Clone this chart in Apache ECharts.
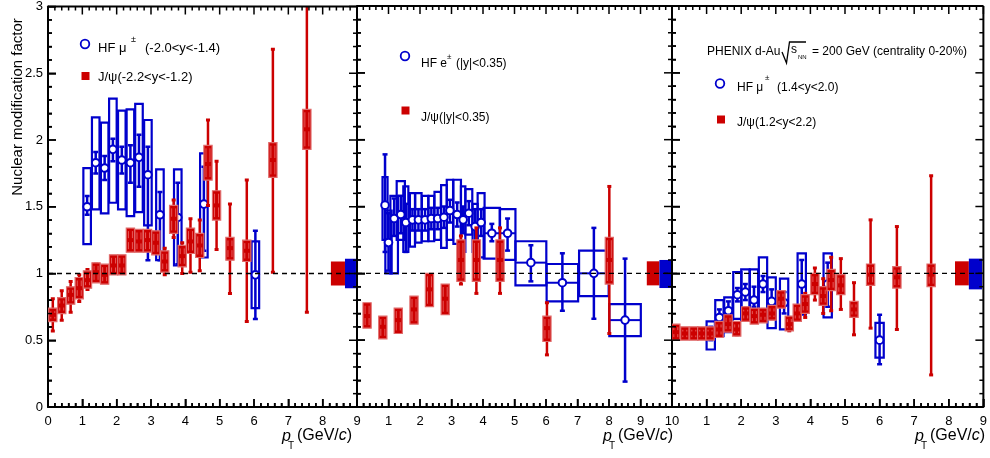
<!DOCTYPE html>
<html>
<head>
<meta charset="utf-8">
<title>Nuclear modification factor</title>
<script src="https://cdn.jsdelivr.net/npm/echarts@6/dist/echarts.min.js"></script>
<style>
html, body { margin: 0; padding: 0; background: #fff; }
#chart { width: 990px; height: 458px; }
</style>
</head>
<body>
<div id="chart"></div>
<script>
// columns: pT, R, statLo, statHi, sysLo, sysHi, binHalfWidth

// panel 1: backward rapidity
const hfMuBwd = [
    [1.14, 1.50, 1.44, 1.58, 1.22, 1.79, 0.11],
    [1.39, 1.83, 1.75, 1.91, 1.48, 2.17, 0.11],
    [1.65, 1.79, 1.70, 1.88, 1.45, 2.13, 0.11],
    [1.89, 1.93, 1.84, 2.01, 1.53, 2.31, 0.11],
    [2.15, 1.85, 1.75, 1.95, 1.48, 2.22, 0.11],
    [2.40, 1.83, 1.68, 1.96, 1.43, 2.23, 0.11],
    [2.65, 1.87, 1.65, 2.04, 1.46, 2.27, 0.11],
    [2.91, 1.74, 1.10, 1.95, 1.36, 2.15, 0.11],
    [3.26, 1.44, 1.10, 1.61, 1.10, 1.78, 0.11],
    [3.78, 1.42, 1.07, 1.68, 1.06, 1.78, 0.11],
    [4.54, 1.52, 1.17, 1.80, 1.12, 1.90, 0.11],
    [6.04, 0.99, 0.66, 1.32, 0.74, 1.24, 0.11]
];
const jpsiBwd = [
    [0.14, 0.69, 0.57, 0.81, 0.64, 0.74, 0.12],
    [0.40, 0.76, 0.65, 0.87, 0.70, 0.82, 0.12],
    [0.66, 0.84, 0.71, 0.94, 0.77, 0.90, 0.12],
    [0.91, 0.89, 0.79, 0.99, 0.81, 0.97, 0.12],
    [1.15, 0.95, 0.88, 1.03, 0.89, 1.02, 0.12],
    [1.40, 1.01, 0.95, 1.07, 0.93, 1.08, 0.12],
    [1.65, 0.99, 0.94, 1.05, 0.92, 1.07, 0.12],
    [1.91, 1.06, 1.01, 1.11, 0.99, 1.14, 0.12],
    [2.15, 1.06, 1.01, 1.11, 0.99, 1.14, 0.12],
    [2.40, 1.25, 1.19, 1.31, 1.16, 1.34, 0.12],
    [2.65, 1.24, 1.18, 1.30, 1.16, 1.33, 0.12],
    [2.90, 1.25, 1.19, 1.31, 1.16, 1.33, 0.12],
    [3.14, 1.23, 1.17, 1.29, 1.14, 1.32, 0.12],
    [3.40, 1.09, 0.99, 1.19, 1.01, 1.17, 0.12],
    [3.66, 1.41, 1.27, 1.55, 1.30, 1.51, 0.12],
    [3.91, 1.13, 1.00, 1.23, 1.05, 1.21, 0.12],
    [4.15, 1.24, 1.01, 1.41, 1.15, 1.34, 0.12],
    [4.42, 1.21, 1.02, 1.40, 1.12, 1.30, 0.12],
    [4.66, 1.82, 1.51, 2.15, 1.70, 1.96, 0.12],
    [4.91, 1.51, 1.18, 1.84, 1.40, 1.62, 0.12],
    [5.30, 1.19, 0.85, 1.52, 1.10, 1.27, 0.12],
    [5.79, 1.17, 0.64, 1.70, 1.09, 1.25, 0.12],
    [6.55, 1.85, 1.01, 2.68, 1.72, 1.98, 0.12],
    [7.54, 2.08, 0.71, 3.30, 1.93, 2.23, 0.12]
];

// panel 2: mid rapidity
const hfEMid = [
    [0.89, 1.51, 1.16, 1.89, 1.25, 1.72, 0.08],
    [1.00, 1.23, 1.02, 1.45, 1.00, 1.47, 0.10],
    [1.18, 1.41, 1.28, 1.56, 1.00, 1.58, 0.12],
    [1.39, 1.44, 1.30, 1.58, 1.25, 1.69, 0.13],
    [1.55, 1.38, 1.16, 1.52, 1.16, 1.65, 0.08],
    [1.76, 1.40, 1.32, 1.48, 1.20, 1.60, 0.08],
    [1.95, 1.40, 1.32, 1.48, 1.23, 1.60, 0.10],
    [2.16, 1.40, 1.32, 1.48, 1.24, 1.58, 0.10],
    [2.36, 1.41, 1.33, 1.49, 1.24, 1.58, 0.09],
    [2.56, 1.41, 1.33, 1.49, 1.25, 1.61, 0.10],
    [2.76, 1.42, 1.34, 1.50, 1.19, 1.66, 0.09],
    [2.95, 1.47, 1.38, 1.55, 1.25, 1.70, 0.10],
    [3.18, 1.44, 1.35, 1.53, 1.22, 1.70, 0.12],
    [3.37, 1.40, 1.30, 1.50, 1.16, 1.65, 0.07],
    [3.55, 1.45, 1.36, 1.54, 1.29, 1.63, 0.11],
    [3.75, 1.35, 1.20, 1.48, 1.16, 1.52, 0.08],
    [3.94, 1.38, 1.28, 1.48, 1.12, 1.60, 0.11],
    [4.28, 1.30, 1.24, 1.37, 1.11, 1.49, 0.26],
    [4.78, 1.30, 1.17, 1.41, 1.10, 1.48, 0.25],
    [5.52, 1.08, 0.94, 1.21, 0.91, 1.24, 0.49],
    [6.52, 0.93, 0.72, 1.15, 0.79, 1.07, 0.50],
    [7.52, 1.00, 0.66, 1.34, 0.83, 1.17, 0.47],
    [8.51, 0.65, 0.19, 1.11, 0.53, 0.77, 0.50]
];
const jpsiMid = [
    [0.32, 0.68, 0.62, 0.74, 0.59, 0.78, 0.13],
    [0.82, 0.60, 0.55, 0.65, 0.51, 0.68, 0.13],
    [1.31, 0.65, 0.59, 0.71, 0.55, 0.74, 0.13],
    [1.81, 0.73, 0.67, 0.79, 0.62, 0.83, 0.13],
    [2.30, 0.88, 0.80, 0.96, 0.75, 1.00, 0.13],
    [2.80, 0.81, 0.74, 0.88, 0.69, 0.92, 0.13],
    [3.30, 1.10, 0.92, 1.28, 0.94, 1.25, 0.13],
    [3.79, 1.10, 0.85, 1.34, 0.94, 1.25, 0.13],
    [4.54, 1.10, 0.85, 1.34, 0.94, 1.25, 0.13],
    [6.03, 0.59, 0.39, 0.78, 0.49, 0.68, 0.13],
    [8.01, 1.10, 0.55, 1.65, 0.92, 1.27, 0.13]
];

// panel 3: forward rapidity
const hfMuFwd = [
    [1.12, 0.55, 0.50, 0.60, 0.43, 0.64, 0.12],
    [1.37, 0.67, 0.60, 0.73, 0.53, 0.80, 0.12],
    [1.63, 0.72, 0.65, 0.79, 0.56, 0.82, 0.12],
    [1.89, 0.84, 0.79, 0.89, 0.66, 1.01, 0.12],
    [2.12, 0.86, 0.80, 0.92, 0.65, 1.03, 0.12],
    [2.37, 0.80, 0.75, 0.90, 0.65, 1.03, 0.12],
    [2.63, 0.92, 0.86, 0.98, 0.65, 1.12, 0.12],
    [2.88, 0.79, 0.70, 0.88, 0.59, 0.97, 0.12],
    [3.24, 0.78, 0.70, 0.86, 0.58, 0.96, 0.12],
    [3.75, 0.92, 0.72, 1.10, 0.69, 1.15, 0.12],
    [4.50, 0.92, 0.75, 1.08, 0.67, 1.15, 0.12],
    [6.00, 0.50, 0.32, 0.69, 0.37, 0.63, 0.12]
];
const jpsiFwd = [
    [0.11, 0.56, 0.52, 0.60, 0.50, 0.62, 0.12],
    [0.37, 0.55, 0.52, 0.58, 0.50, 0.60, 0.12],
    [0.63, 0.55, 0.52, 0.58, 0.50, 0.60, 0.12],
    [0.86, 0.55, 0.52, 0.58, 0.50, 0.60, 0.12],
    [1.10, 0.55, 0.52, 0.59, 0.50, 0.60, 0.12],
    [1.36, 0.58, 0.54, 0.62, 0.52, 0.64, 0.12],
    [1.62, 0.62, 0.57, 0.67, 0.56, 0.69, 0.12],
    [1.87, 0.58, 0.54, 0.62, 0.53, 0.64, 0.12],
    [2.13, 0.70, 0.66, 0.74, 0.64, 0.75, 0.12],
    [2.38, 0.68, 0.64, 0.72, 0.62, 0.74, 0.12],
    [2.63, 0.69, 0.65, 0.73, 0.63, 0.74, 0.12],
    [2.89, 0.70, 0.66, 0.74, 0.65, 0.76, 0.12],
    [3.15, 0.81, 0.76, 0.86, 0.74, 0.87, 0.12],
    [3.39, 0.62, 0.57, 0.67, 0.57, 0.68, 0.12],
    [3.62, 0.70, 0.65, 0.75, 0.64, 0.77, 0.12],
    [3.85, 0.77, 0.67, 0.85, 0.70, 0.84, 0.12],
    [4.13, 0.92, 0.80, 1.04, 0.84, 1.00, 0.12],
    [4.37, 0.83, 0.70, 0.96, 0.76, 0.90, 0.12],
    [4.60, 0.95, 0.72, 1.12, 0.87, 1.03, 0.12],
    [4.88, 0.91, 0.73, 1.11, 0.84, 0.99, 0.12],
    [5.26, 0.73, 0.54, 0.93, 0.67, 0.79, 0.12],
    [5.74, 0.99, 0.59, 1.40, 0.91, 1.07, 0.12],
    [6.50, 0.97, 0.58, 1.35, 0.89, 1.05, 0.12],
    [7.49, 0.99, 0.24, 1.73, 0.90, 1.07, 0.12]
];

// global uncertainty boxes, one row per panel: pTfrom, pTto, lo, hi
const jpsiGlobal = [[8.24, 8.65, 0.91, 1.09], [9.20, 9.60, 0.91, 1.09], [8.18, 8.58, 0.91, 1.09]];
const hfGlobal = [[8.65, 8.97, 0.89, 1.11], [9.60, 9.99, 0.89, 1.10], [8.58, 8.96, 0.88, 1.11]];

const xMaxes = [9, 10, 9];
const yTicks = [0, 0.5, 1, 1.5, 2, 2.5, 3];

const BLUE = '#0000cc';
const RED = '#cc0000';
const FONT = '"Liberation Sans", Arial, sans-serif';

const chart = echarts.init(document.getElementById('chart'));

const gridPos = [
    { left: 48, width: 309 },
    { left: 357, width: 315 },
    { left: 672, width: 316 }
];

// 系统误差框 (蓝色空心)
function renderHfBox(params, api) {
    const x = api.value(0), hw = api.value(6);
    const a = api.coord([x - hw, api.value(5)]);
    const b = api.coord([x + hw, api.value(4)]);
    return {
        type: 'rect',
        shape: { x: a[0], y: a[1], width: b[0] - a[0], height: b[1] - a[1] },
        style: { fill: 'none', stroke: BLUE, lineWidth: 2.2 }
    };
}

// 统计误差 + 空心圆
function renderHfPoint(params, api) {
    const x = api.value(0), hw = api.value(6);
    const c = api.coord([x, api.value(1)]);
    const lo = api.coord([x, api.value(2)]);
    const hi = api.coord([x, api.value(3)]);
    const l = api.coord([x - hw, api.value(1)]);
    const r = api.coord([x + hw, api.value(1)]);
    const ls = { stroke: BLUE, lineWidth: 2.5 };
    return {
        type: 'group',
        children: [
            { type: 'line', shape: { x1: c[0], y1: hi[1], x2: c[0], y2: lo[1] }, style: ls },
            { type: 'line', shape: { x1: c[0] - 2.5, y1: hi[1], x2: c[0] + 2.5, y2: hi[1] }, style: ls },
            { type: 'line', shape: { x1: c[0] - 2.5, y1: lo[1], x2: c[0] + 2.5, y2: lo[1] }, style: ls },
            { type: 'line', shape: { x1: l[0], y1: c[1], x2: r[0], y2: c[1] }, style: { stroke: BLUE, lineWidth: 2 } },
            { type: 'circle', shape: { cx: c[0], cy: c[1], r: 3.8 }, style: { fill: '#fff', stroke: BLUE, lineWidth: 2 } }
        ]
    };
}

// J/psi: 实心框 + 误差线
function renderJpsi(params, api) {
    const x = api.value(0), hw = api.value(6);
    const c = api.coord([x, api.value(1)]);
    const lo = api.coord([x, api.value(2)]);
    const hi = api.coord([x, api.value(3)]);
    const a = api.coord([x - hw, api.value(5)]);
    const b = api.coord([x + hw, api.value(4)]);
    const ls = { stroke: RED, lineWidth: 2.5 };
    const inner = { stroke: 'rgba(240,120,120,0.75)', lineWidth: 1 };
    return {
        type: 'group',
        children: [
            { type: 'line', shape: { x1: c[0], y1: hi[1], x2: c[0], y2: lo[1] }, style: ls },
            { type: 'rect', shape: { x: c[0] - 2, y: hi[1] - 1.5, width: 4, height: 3 }, style: { fill: RED } },
            { type: 'rect', shape: { x: c[0] - 2, y: lo[1] - 1.5, width: 4, height: 3 }, style: { fill: RED } },
            {
                type: 'rect',
                shape: { x: a[0], y: a[1], width: b[0] - a[0], height: b[1] - a[1] },
                style: { fill: RED, stroke: '#e06a6a', lineWidth: 1.2 }
            },
            { type: 'line', shape: { x1: c[0] - 2, y1: a[1] + 3, x2: c[0] - 2, y2: c[1] - 2 }, style: inner },
            { type: 'line', shape: { x1: c[0] - 2, y1: c[1] + 2, x2: c[0] - 2, y2: b[1] - 3 }, style: inner },
            { type: 'line', shape: { x1: c[0] + 2, y1: a[1] + 3, x2: c[0] + 2, y2: c[1] - 2 }, style: inner },
            { type: 'line', shape: { x1: c[0] + 2, y1: c[1] + 2, x2: c[0] + 2, y2: b[1] - 3 }, style: inner }
        ]
    };
}

function renderGlobal(color) {
    return function(params, api) {
        const a = api.coord([api.value(0), api.value(3)]);
        const b = api.coord([api.value(1), api.value(2)]);
        return {
            type: 'rect',
            shape: { x: a[0], y: a[1], width: b[0] - a[0], height: b[1] - a[1] },
            style: { fill: color }
        };
    };
}

// 上边框和右边框
function renderTopRight(p) {
    return function(params, api) {
        const yMax = yTicks[yTicks.length - 1];
        const tl = api.coord([0, yMax]);
        const tr = api.coord([xMaxes[p], yMax]);
        const br = api.coord([xMaxes[p], 0]);
        return {
            type: 'group',
            children: [
                { type: 'line', shape: { x1: tl[0], y1: tl[1], x2: tr[0], y2: tr[1] }, style: { stroke: '#000', lineWidth: 2 } },
                { type: 'line', shape: { x1: tr[0], y1: tr[1], x2: br[0], y2: br[1] }, style: { stroke: '#000', lineWidth: 2 } }
            ]
        };
    };
}

const grids = [], xAxes = [], yAxes = [], series = [];
const tickStyle = { show: true, inside: true, length: 8, lineStyle: { color: '#000', width: 1.5 } };
const minorStyle = { show: true, splitNumber: 5, length: 4, lineStyle: { color: '#000', width: 1.5 } };
const lineStyle = { show: true, onZero: false, lineStyle: { color: '#000', width: 2 } };

gridPos.forEach(function(g, p) {
    grids.push({ left: g.left, width: g.width, top: 6, height: 401 });
});
gridPos.forEach(function(g, p) {
    xAxes.push({
        type: 'value', gridIndex: p, min: 0, max: xMaxes[p], interval: 1,
        axisLine: lineStyle, axisTick: tickStyle, minorTick: minorStyle, splitLine: { show: false },
        axisLabel: {
            color: '#000', fontFamily: FONT, fontSize: 13, margin: 8,
            formatter: function(v) { return (p > 0 && v === 0) ? '' : String(v); }
        }
    });
});
gridPos.forEach(function(g, p) {
    yAxes.push({
        type: 'value', gridIndex: p, min: yTicks[0], max: yTicks[yTicks.length - 1], interval: 0.5,
        axisLine: lineStyle, axisTick: tickStyle, minorTick: minorStyle, splitLine: { show: false },
        axisLabel: {
            show: p === 0, color: '#000', fontFamily: FONT, fontSize: 13, margin: 5,
            formatter: function(v) { return String(v); }
        }
    });
});

const hfSets = [hfMuBwd, hfEMid, hfMuFwd];
const jpsiSets = [jpsiBwd, jpsiMid, jpsiFwd];

for (let p = 0; p < 3; p++) {
    series.push({
        type: 'custom', xAxisIndex: p, yAxisIndex: p, clip: true,
        renderItem: renderHfBox, data: hfSets[p]
    });
    series.push({
        type: 'custom', xAxisIndex: p, yAxisIndex: p, clip: true,
        renderItem: renderHfPoint, data: hfSets[p]
    });
    series.push({
        type: 'custom', xAxisIndex: p, yAxisIndex: p, clip: true,
        renderItem: renderJpsi, data: jpsiSets[p]
    });
    series.push({
        type: 'custom', xAxisIndex: p, yAxisIndex: p, clip: true,
        renderItem: renderGlobal(RED), data: [jpsiGlobal[p]]
    });
    series.push({
        type: 'custom', xAxisIndex: p, yAxisIndex: p, clip: true,
        renderItem: renderGlobal(BLUE), data: [hfGlobal[p]]
    });
    // y = 1 参考线
    series.push({
        type: 'line', xAxisIndex: p, yAxisIndex: p,
        symbol: 'none',
        lineStyle: { color: '#000', width: 1.4, type: [5, 4] },
        data: [[0, 1], [xMaxes[p], 1]]
    });
    series.push({
        type: 'custom', xAxisIndex: p, yAxisIndex: p, clip: false,
        renderItem: renderTopRight(p), data: [[0, 0]]
    });
}

function txt(x, y, text, size, extra) {
    return Object.assign({
        type: 'text', x: x, y: y, z: 10,
        style: {
            text: text, fill: '#000', font: size + 'px ' + FONT,
            textAlign: 'left', textVerticalAlign: 'middle', align: 'left', verticalAlign: 'middle'
        }
    }, extra || {});
}
function circleMark(x, y) {
    return { type: 'circle', shape: { cx: x, cy: y, r: 4.3 }, style: { fill: '#fff', stroke: BLUE, lineWidth: 1.8 }, z: 10 };
}
function squareMark(x, y) {
    return { type: 'rect', shape: { x: x - 4, y: y - 4, width: 8, height: 8 }, style: { fill: RED }, z: 10 };
}
function ptTitle(x) {
    return [
        txt(x, 437, 'p', 16, { style: { text: 'p', fill: '#000', font: 'italic 16px ' + FONT, textVerticalAlign: 'middle', verticalAlign: 'middle' } }),
        txt(x + 6, 446, 'T', 10),
        {
            type: 'text', x: x + 15, y: 436, z: 10,
            style: {
                text: '{n|(GeV/}{i|c}{n|)}', textVerticalAlign: 'middle', verticalAlign: 'middle',
                rich: {
                    n: { fontFamily: FONT, fontSize: 16, fill: '#000', color: '#000' },
                    i: { fontFamily: FONT, fontSize: 16, fontStyle: 'italic', fill: '#000', color: '#000' }
                }
            }
        }
    ];
}

const graphics = [
    txt(18, 107, 'Nuclear modification factor', 15, {
        rotation: Math.PI / 2,
        style: {
            text: 'Nuclear modification factor', fill: '#000', font: '15px ' + FONT,
            textAlign: 'center', align: 'center', textVerticalAlign: 'middle', verticalAlign: 'middle'
        }
    }),
    // panel 1 legend
    circleMark(85, 44),
    txt(98, 48, 'HF μ', 13),
    txt(131, 40, '±', 9),
    txt(145, 48, '(-2.0<y<-1.4)', 13),
    squareMark(85.5, 76),
    txt(98, 77, 'J/ψ(-2.2<y<-1.2)', 13),
    // panel 2 legend
    circleMark(405, 56),
    txt(421, 64, 'HF e', 12),
    txt(447, 57, '±', 8),
    txt(456, 64, '(|y|<0.35)', 12),
    squareMark(405.5, 110.5),
    txt(421, 118, 'J/ψ(|y|<0.35)', 12),
    // panel 3 title + legend
    txt(707, 52, 'PHENIX d-Au', 12),
    {
        type: 'polyline', z: 10,
        shape: { points: [[782, 52], [786.5, 63], [789.5, 42], [806, 42]] },
        style: { stroke: '#000', lineWidth: 1.3, fill: 'none' }
    },
    txt(791, 50, 's', 12),
    txt(798, 57, 'NN', 6),
    txt(812, 52, '= 200 GeV (centrality 0-20%)', 12),
    circleMark(720, 83.5),
    txt(737, 88, 'HF μ', 12),
    txt(765, 78, '±', 8),
    txt(777, 88, '(1.4<y<2.0)', 12),
    squareMark(721, 119.5),
    txt(737, 123, 'J/ψ(1.2<y<2.2)', 12)
].concat(ptTitle(282), ptTitle(603), ptTitle(915));

chart.setOption({
    animation: false,
    grid: grids,
    xAxis: xAxes,
    yAxis: yAxes,
    series: series
});

// 四边朝内刻度, 位置由坐标轴换算
let tickEls = [];
try {
    const yMax = yTicks[yTicks.length - 1];
    for (let p = 0; p < 3; p++) {
        const finder = { gridIndex: p };
        const xMax = xMaxes[p];
        for (let i = 0; i <= xMax * 5; i++) {
            const len = i % 5 === 0 ? 8 : 4;
            const b = chart.convertToPixel(finder, [i / 5, 0]);
            const t = chart.convertToPixel(finder, [i / 5, yMax]);
            tickEls.push({ type: 'rect', z: 20, shape: { x: b[0] - 0.75, y: b[1] - len, width: 1.5, height: len }, style: { fill: '#000' } });
            tickEls.push({ type: 'rect', z: 20, shape: { x: t[0] - 0.75, y: t[1], width: 1.5, height: len }, style: { fill: '#000' } });
        }
        for (let j = 0; j <= yMax * 10; j++) {
            const len = j % 5 === 0 ? 8 : 4;
            const l = chart.convertToPixel(finder, [0, j / 10]);
            const r = chart.convertToPixel(finder, [xMax, j / 10]);
            tickEls.push({ type: 'rect', z: 20, shape: { x: l[0], y: l[1] - 0.75, width: len, height: 1.5 }, style: { fill: '#000' } });
            tickEls.push({ type: 'rect', z: 20, shape: { x: r[0] - len, y: r[1] - 0.75, width: len, height: 1.5 }, style: { fill: '#000' } });
        }
    }
} catch (e) {
    tickEls = [];
}

chart.setOption({ graphic: { elements: graphics.concat(tickEls) } });

window.addEventListener('resize', function() {
    chart.resize();
});
</script>
</body>
</html>
